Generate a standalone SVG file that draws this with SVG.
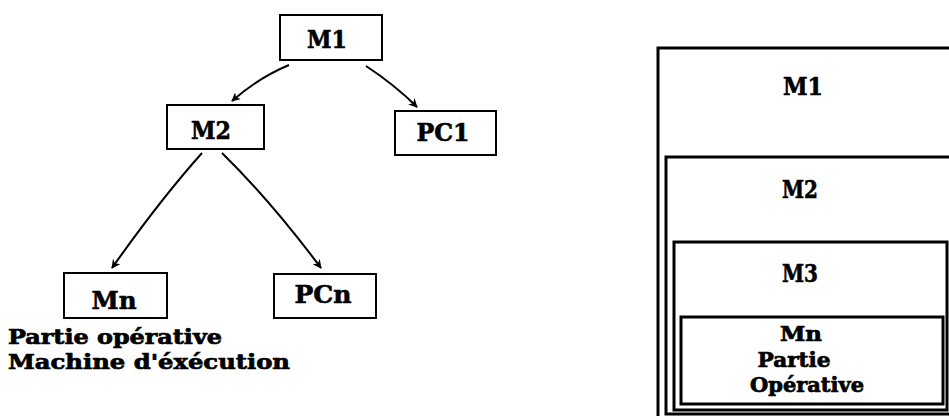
<svg xmlns="http://www.w3.org/2000/svg" width="949" height="416" viewBox="0 0 949 416">
<defs>
<style>
.box{fill:#fff;stroke:#000;stroke-width:2}
.nest{fill:none;stroke:#000;stroke-width:3}
.lbl{font-family:"DejaVu Serif","Liberation Serif",serif;font-weight:bold;font-size:24px;fill:#000;stroke:#000;stroke-width:0.6}
.txt{font-family:"DejaVu Serif","Liberation Serif",serif;font-weight:bold;font-size:20px;fill:#000;stroke:#000;stroke-width:0.7}
.con{fill:none;stroke:#000;stroke-width:2;marker-end:url(#ah)}
</style>
<marker id="ah" viewBox="0 0 10 10" refX="9" refY="5" markerWidth="9" markerHeight="9" markerUnits="userSpaceOnUse" orient="auto">
<path d="M0,0 L10,5 L0,10 L3,5 Z" fill="#000"/>
</marker>
</defs>
<rect width="949" height="416" fill="#fff"/>
<g id="connectors">
<path class="con" d="M289,65 Q258,78 232,101"/>
<path class="con" d="M366,66 Q395,85 417,107"/>
<path class="con" d="M202,153 Q160,200 112,268"/>
<path class="con" d="M222,153 Q270,200 321,268"/>
</g>
<g id="node-M1">
<rect class="box" x="280" y="15" width="102" height="45"/>
<text class="lbl" x="327" y="48" text-anchor="middle" textLength="40" lengthAdjust="spacingAndGlyphs">M1</text>
</g>
<g id="node-M2">
<rect class="box" x="167" y="105" width="97" height="44"/>
<text class="lbl" x="211" y="139" text-anchor="middle" textLength="40" lengthAdjust="spacingAndGlyphs">M2</text>
</g>
<g id="node-PC1">
<rect class="box" x="395" y="111" width="101" height="44"/>
<text class="lbl" x="443" y="141" text-anchor="middle" textLength="53" lengthAdjust="spacingAndGlyphs">PC1</text>
</g>
<g id="node-Mn">
<rect class="box" x="64" y="273" width="103" height="45"/>
<text class="lbl" x="114" y="309" text-anchor="middle" textLength="45" lengthAdjust="spacingAndGlyphs">Mn</text>
</g>
<g id="node-PCn">
<rect class="box" x="274" y="274" width="102" height="44"/>
<text class="lbl" x="323" y="303" text-anchor="middle" textLength="57" lengthAdjust="spacingAndGlyphs">PCn</text>
</g>
<g id="caption">
<text class="txt" x="8" y="344" textLength="214" lengthAdjust="spacingAndGlyphs">Partie opérative</text>
<text class="txt" x="8" y="369" textLength="282" lengthAdjust="spacingAndGlyphs">Machine d'éxécution</text>
</g>
<g id="nest-M1">
<rect class="nest" x="658" y="48" width="320" height="400"/>
<text class="lbl" x="803" y="95" text-anchor="middle" textLength="40" lengthAdjust="spacingAndGlyphs">M1</text>
</g>
<g id="nest-M2">
<rect class="nest" x="666" y="157" width="310" height="257"/>
<text class="lbl" x="800" y="198" text-anchor="middle" textLength="36" lengthAdjust="spacingAndGlyphs">M2</text>
</g>
<g id="nest-M3">
<rect class="nest" x="674" y="242" width="273" height="168"/>
<text class="lbl" x="800" y="282" text-anchor="middle" textLength="36" lengthAdjust="spacingAndGlyphs">M3</text>
</g>
<g id="nest-Mn">
<rect class="nest" x="681" y="317" width="262" height="87"/>
<text class="txt" x="801" y="341" text-anchor="middle" textLength="42" lengthAdjust="spacingAndGlyphs">Mn</text>
<text class="txt" x="794" y="367" text-anchor="middle" textLength="73" lengthAdjust="spacingAndGlyphs">Partie</text>
<text class="txt" x="807" y="392" text-anchor="middle" textLength="114" lengthAdjust="spacingAndGlyphs">Opérative</text>
</g>
</svg>
